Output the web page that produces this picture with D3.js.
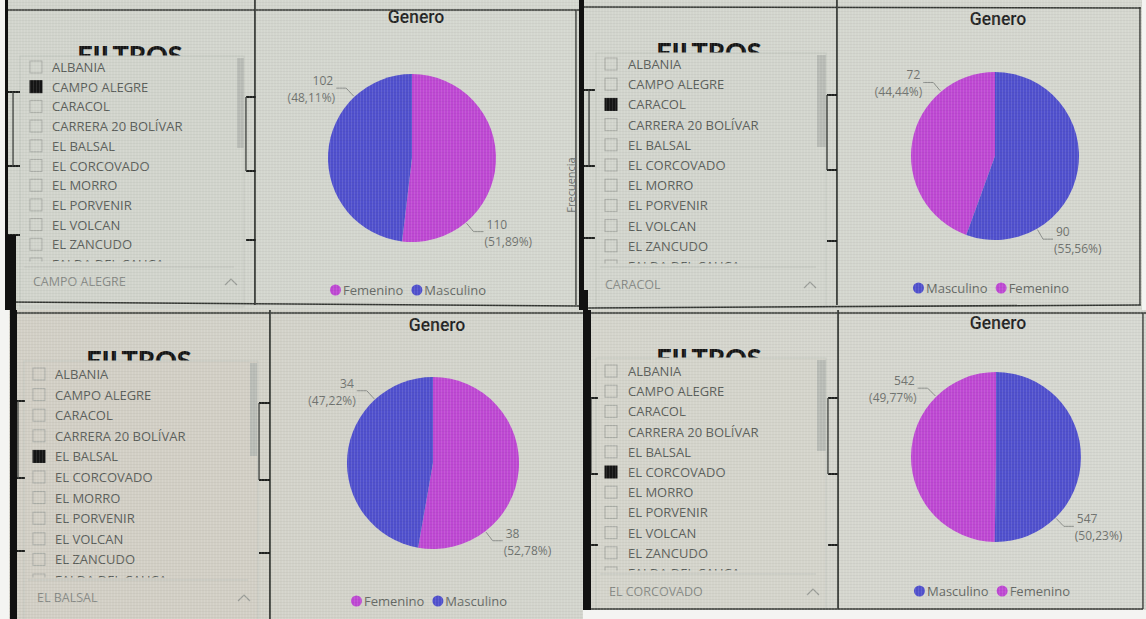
<!DOCTYPE html>
<html>
<head>
<meta charset="utf-8">
<script src="https://cdn.jsdelivr.net/npm/d3@7"></script>
<style>
  body { margin: 0; background: #ffffff; }
  svg { display: block; }
</style>
</head>
<body>
<svg id="chart" width="1146" height="619"></svg>
<script>
// ---- data ----
const municipios = ["ALBANIA", "CAMPO ALEGRE", "CARACOL", "CARRERA 20 BOLÍVAR", "EL BALSAL",
  "EL CORCOVADO", "EL MORRO", "EL PORVENIR", "EL VOLCAN", "EL ZANCUDO", "FALDA DEL CAUCA"];
const generos = ["Femenino", "Masculino"];
const seleccion = ["CAMPO ALEGRE", "CARACOL", "EL BALSAL", "EL CORCOVADO"];
const femenino = [110, 72, 38, 542];
const masculino = [102, 90, 34, 547];
const tituloGrafico = "Genero";
const tituloFiltro = "FILTROS";

const colorGenero = d3.scaleOrdinal().domain(generos).range(["#be48d3", "#5050cd"]);

// ---- layout of the four report views ----
const tiles = [
  { x: 0, y: 0, w: 579, h: 310, bg: ["#d1d4cc", "#d4d7cf"], white: [[0, 0, 5, 310]],
    strips: [[5, 0, 3, 235], [5, 235, 11, 75]],
    frameTop: [7, 10, 579, 10], frameBottom: [7, 302, 579, 306],
    chartLeft: 255, chartRight: 576, chartBottom: 305,
    filtros: [130, 65], list: [20, 56, 244, 267], row0: 67, rowStep: 19.7, checkX: 30, textX: 52,
    scroll: [237, 58, 7, 90], drop: [33, 286], chevron: 231,
    title: [416, 23], pie: [412, 158, 84], legendY: 290,
    marksL: [7, 20, 13, [92, 166, 235]], marksR: [246, 256, 246, [97, 171, 240]], extra: "Frecuencia" },
  { x: 579, y: 0, w: 567, h: 310, bg: ["#d2d5cd", "#d5d7cf"], white: [[1142, 0, 4, 310]],
    strips: [[578, 0, 6, 290], [579, 290, 9, 20]],
    frameTop: [584, 7, 1141, 8], frameBottom: [588, 308, 1141, 305],
    chartLeft: 837, chartRight: 1140, chartBottom: 305,
    filtros: [709, 62], list: [596, 53, 826, 267], row0: 64, rowStep: 20.2, checkX: 605, textX: 628,
    scroll: [817, 55, 9, 92], drop: [605, 289], chevron: 810,
    title: [998, 25], pie: [995, 156, 84], legendY: 288,
    marksL: [584, 595, 589, [90, 166, 238]], marksR: [827, 837, 827, [95, 170, 241]] },
  { x: 0, y: 310, w: 583, h: 309, bg: ["#d2cfc5", "#d3d5cd"], white: [[0, 310, 9, 309]],
    strips: [[10, 310, 7, 309]],
    frameTop: [10, 313, 583, 313], frameBottom: null,
    chartLeft: 270, chartRight: 600, chartBottom: 640,
    filtros: [139, 370], list: [24, 361, 258, 580], row0: 374, rowStep: 20.6, checkX: 33, textX: 55,
    scroll: [250, 363, 7, 93], drop: [37, 602], chevron: 244,
    title: [437, 331], pie: [433, 463, 86], legendY: 601,
    marksL: [17, 25, 18, [401, 478, 551]], marksR: [259, 270, 259, [403, 480, 553]] },
  { x: 583, y: 310, w: 563, h: 309, bg: ["#d4d4cb", "#d6d8d1"], white: [[583, 610, 563, 9]],
    strips: [[582, 310, 9, 300]],
    frameTop: [583, 313, 1146, 313], frameBottom: [591, 609, 1143, 609],
    chartLeft: 838, chartRight: 1143, chartBottom: 609,
    filtros: [709, 368], list: [596, 358, 826, 574], row0: 371, rowStep: 20.2, checkX: 605, textX: 628,
    scroll: [817, 360, 9, 91], drop: [609, 596], chevron: 813,
    title: [998, 329], pie: [996, 457, 85], legendY: 591,
    marksL: [591, 598, 591, [398, 474, 545]], marksR: [828, 838, 828, [398, 474, 545]] }
];

const svg = d3.select("#chart");
const defs = svg.append("defs");
const fmtPct = v => d3.format(".2f")(v).replace(".", ",");
const lineCol = "#343733";
const textFont = "'Open Sans', 'Noto Sans', sans-serif";

// fine screen grid visible across the whole surface
const grid = defs.append("pattern").attr("id", "grid").attr("patternUnits", "userSpaceOnUse")
  .attr("width", 3).attr("height", 3);
grid.append("rect").attr("x", 0).attr("y", 0).attr("width", 1).attr("height", 3).attr("fill", "rgba(255,255,255,0.10)");
grid.append("rect").attr("x", 0).attr("y", 2).attr("width", 3).attr("height", 1).attr("fill", "rgba(0,0,0,0.035)");

tiles.forEach((t, i) => {
  defs.append("clipPath").attr("id", "tile" + i)
    .append("rect").attr("x", t.x).attr("y", t.y).attr("width", t.w).attr("height", t.h);
  defs.append("clipPath").attr("id", "list" + i)
    .append("rect").attr("x", t.list[0]).attr("y", t.list[1])
    .attr("width", t.list[2] - t.list[0]).attr("height", t.row0 + 10 * t.rowStep - 2.5 - t.list[1]);
  const grad = defs.append("linearGradient").attr("id", "bg" + i)
    .attr("x1", 0).attr("x2", 1).attr("y1", 0).attr("y2", 0);
  grad.append("stop").attr("offset", 0).attr("stop-color", t.bg[0]);
  grad.append("stop").attr("offset", 1).attr("stop-color", t.bg[1]);

  const g = svg.append("g").attr("clip-path", `url(#tile${i})`);
  g.append("rect").attr("x", t.x).attr("y", t.y).attr("width", t.w).attr("height", t.h).attr("fill", `url(#bg${i})`);

  // filter panel title, partly hidden by the list box
  g.append("text").attr("x", t.filtros[0]).attr("y", t.filtros[1])
    .attr("text-anchor", "middle").attr("font-family", "Lato, sans-serif")
    .attr("font-weight", 900).attr("font-size", 27).attr("fill", "#161616").text(tituloFiltro);

  // list box
  g.append("rect").attr("x", t.list[0]).attr("y", t.list[1])
    .attr("width", t.list[2] - t.list[0]).attr("height", t.list[3] + 40 - t.list[1])
    .attr("fill", t.bg[0]).attr("stroke", "#c4c7c0").attr("stroke-width", 1);
  g.append("rect").attr("x", t.scroll[0]).attr("y", t.scroll[1])
    .attr("width", t.scroll[2]).attr("height", t.scroll[3]).attr("fill", "#b9bcb6");

  const sel = municipios.indexOf(seleccion[i]);
  const rows = g.append("g").attr("clip-path", `url(#list${i})`);
  const rowY = d3.scaleLinear().domain([0, 1]).range([t.row0, t.row0 + t.rowStep]);
  municipios.forEach((m, k) => {
    const cy = rowY(k);
    rows.append("rect").attr("x", t.checkX).attr("y", cy - 6).attr("width", 12).attr("height", 12)
      .attr("fill", k === sel ? "#151515" : "none")
      .attr("stroke", k === sel ? "#151515" : "#a9aca6").attr("stroke-width", 1);
    rows.append("text").attr("x", t.textX).attr("y", cy + 5)
      .attr("font-family", textFont).attr("font-size", 13).attr("fill", "#5a5e5a").text(m);
  });
  g.append("line").attr("x1", t.list[0] + 4).attr("x2", t.list[2] - 10)
    .attr("y1", t.list[3]).attr("y2", t.list[3]).attr("stroke", "#c2c5be");

  // dropdown with the chosen item
  g.append("text").attr("x", t.drop[0]).attr("y", t.drop[1])
    .attr("font-family", textFont).attr("font-size", 12.5).attr("fill", "#878a86").text(seleccion[i]);
  g.append("path").attr("d", `M${t.chevron - 6},${t.drop[1] - 1}L${t.chevron},${t.drop[1] - 7}L${t.chevron + 6},${t.drop[1] - 1}`)
    .attr("fill", "none").attr("stroke", "#9a9d98").attr("stroke-width", 1.2);

  // frame lines
  if (t.frameTop) g.append("line").attr("x1", t.frameTop[0]).attr("y1", t.frameTop[1])
    .attr("x2", t.frameTop[2]).attr("y2", t.frameTop[3]).attr("stroke", lineCol).attr("stroke-width", 1.6);
  if (t.frameBottom) g.append("line").attr("x1", t.frameBottom[0]).attr("y1", t.frameBottom[1])
    .attr("x2", t.frameBottom[2]).attr("y2", t.frameBottom[3]).attr("stroke", lineCol).attr("stroke-width", 1.6);
  g.append("line").attr("x1", t.chartLeft).attr("x2", t.chartLeft)
    .attr("y1", t.y).attr("y2", t.chartBottom).attr("stroke", lineCol).attr("stroke-width", 1.8);
  g.append("line").attr("x1", t.chartRight).attr("x2", t.chartRight)
    .attr("y1", t.frameTop[1]).attr("y2", t.chartBottom).attr("stroke", lineCol).attr("stroke-width", 1.4);

  // short marks from the visuals behind the slicer
  [t.marksL, t.marksR].forEach(mk => {
    mk[3].forEach(yv => g.append("line").attr("x1", mk[0]).attr("x2", mk[1]).attr("y1", yv).attr("y2", yv)
      .attr("stroke", "#1e201e").attr("stroke-width", 2));
    g.append("line").attr("x1", mk[2]).attr("x2", mk[2]).attr("y1", mk[3][0]).attr("y2", mk[3][1])
      .attr("stroke", lineCol).attr("stroke-width", 1.3);
  });

  if (t.extra) {
    g.append("text").attr("transform", `translate(${t.chartRight - 1},${185}) rotate(-90)`)
      .attr("text-anchor", "middle").attr("font-family", textFont).attr("font-size", 11)
      .attr("fill", "#6a6d69").text(t.extra);
  }

  // chart title
  g.append("text").attr("x", t.title[0]).attr("y", t.title[1]).attr("text-anchor", "middle")
    .attr("font-family", "Roboto, 'Noto Sans', sans-serif").attr("font-weight", 500)
    .attr("font-size", 17.5).attr("fill", "#222").text(tituloGrafico);

  // pie
  const data = generos.map((gen, k) => ({ genero: gen, value: k === 0 ? femenino[i] : masculino[i] }));
  const total = d3.sum(data, d => d.value);
  const arcs = d3.pie().value(d => d.value)(data);
  const [cx, cy, r] = t.pie;
  const arc = d3.arc().innerRadius(0).outerRadius(r);
  const pg = g.append("g").attr("transform", `translate(${cx},${cy})`);
  pg.selectAll("path").data(arcs).join("path").attr("d", arc)
    .attr("fill", d => colorGenero(d.data.genero));

  // outside labels with leader lines
  arcs.forEach(a => {
    const ang = a.index === 0 ? a.endAngle * 0.75 : a.startAngle + (2 * Math.PI - a.startAngle) * 0.75;
    const sx = Math.sin(ang), sy = -Math.cos(ang);
    const p0 = [sx * (r + 1), sy * (r + 1)];
    const p1 = [sx * (r + 12), sy * (r + 12)];
    const dir = sx >= 0 ? 1 : -1;
    const p2 = [p1[0] + dir * 10, p1[1]];
    pg.append("path").attr("d", `M${p0}L${p1}L${p2}`).attr("fill", "none")
      .attr("stroke", "#8a8d89").attr("stroke-width", 1);
    const lx = p2[0] + dir * 3;
    const anchor = dir > 0 ? "start" : "end";
    pg.append("text").attr("x", lx).attr("y", p2[1] - 3).attr("text-anchor", anchor)
      .attr("font-family", textFont).attr("font-size", 12).attr("fill", "#6e716d")
      .text(a.data.value);
    pg.append("text").attr("x", lx - dir * 2).attr("y", p2[1] + 14).attr("text-anchor", anchor)
      .attr("font-family", textFont).attr("font-size", 12).attr("fill", "#6e716d")
      .text(`(${fmtPct(a.data.value / total * 100)}%)`);
  });

  // legend, in slice order, centred under the pie
  const order = arcs.slice().sort((p, q) => p.index - q.index).map(a => a.data);
  const lg = g.append("g");
  let x = 0;
  order.forEach(d => {
    lg.append("circle").attr("cx", x + 5.5).attr("cy", 0).attr("r", 5.5).attr("fill", colorGenero(d.genero));
    const tx = lg.append("text").attr("x", x + 13).attr("y", 5).attr("font-family", textFont)
      .attr("font-size", 13).attr("fill", "#646864").text(d.genero);
    x += 13 + tx.node().getComputedTextLength() + 8;
  });
  lg.attr("transform", `translate(${cx - 4 - (x - 8) / 2},${t.legendY})`);

  // photo edges and screen texture
  g.append("rect").attr("x", t.x).attr("y", t.y).attr("width", t.w).attr("height", t.h)
    .attr("fill", "url(#grid)").attr("pointer-events", "none");
  t.strips.forEach(s => g.append("rect").attr("x", s[0]).attr("y", s[1]).attr("width", s[2]).attr("height", s[3]).attr("fill", "#111"));
  t.white.forEach(s => g.append("rect").attr("x", s[0]).attr("y", s[1]).attr("width", s[2]).attr("height", s[3]).attr("fill", "#f4f4f2"));
});
</script>
</body>
</html>
